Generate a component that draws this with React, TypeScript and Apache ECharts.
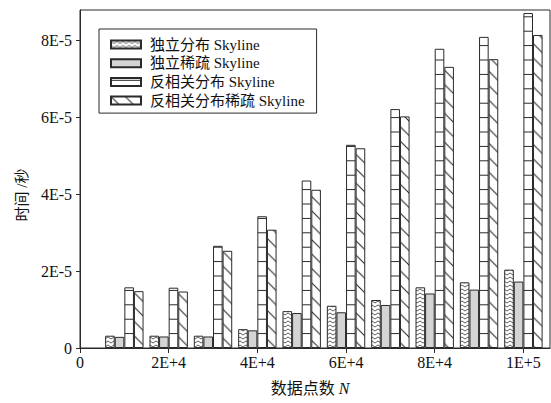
import React, { useEffect, useRef } from 'react';
import * as echarts from 'echarts';

const dataPoints = [10000, 20000, 30000, 40000, 50000, 60000, 70000, 80000, 90000, 100000];
const independent = [3.2e-6, 3.2e-6, 3.2e-6, 4.9e-6, 9.6e-6, 11.0e-6, 12.5e-6, 15.8e-6, 17.1e-6, 20.4e-6];
const independentSparse = [2.9e-6, 3.0e-6, 3.0e-6, 4.6e-6, 9.1e-6, 9.3e-6, 11.2e-6, 14.2e-6, 15.2e-6, 17.3e-6];
const antiCorrelated = [15.8e-6, 15.7e-6, 26.6e-6, 34.3e-6, 43.6e-6, 52.9e-6, 62.2e-6, 77.9e-6, 81.0e-6, 87.2e-6];
const antiCorrelatedSparse = [14.8e-6, 14.7e-6, 25.3e-6, 30.8e-6, 41.2e-6, 52.0e-6, 60.3e-6, 73.2e-6, 75.2e-6, 81.5e-6];
const seriesNames = ['独立分布 Skyline', '独立稀疏 Skyline', '反相关分布 Skyline', '反相关分布稀疏 Skyline'];
const xTickValues = [0, 20000, 40000, 60000, 80000, 100000];
const xTickLabels = ['0', '2E+4', '4E+4', '6E+4', '8E+4', '1E+5'];
const yTickValues = [0, 2e-5, 4e-5, 6e-5, 8e-5];
const yTickLabels = ['0', '2E-5', '4E-5', '6E-5', '8E-5'];

const FONT = "'Liberation Serif', 'Noto Sans CJK SC', serif";
const INK = '#2a2a2a';

function svgUri(svg: string) {
  return 'data:image/svg+xml;charset=utf-8,' + encodeURIComponent(svg);
}

const zigzag = {
  image: svgUri(
    "<svg xmlns='http://www.w3.org/2000/svg' width='6' height='4'><rect width='6' height='4' fill='white'/><polyline points='0,1 3,3 6,1' fill='none' stroke='#333' stroke-width='0.8'/></svg>"
  ),
  repeat: 'repeat',
  imageWidth: 6,
  imageHeight: 4,
};
const hstripe = {
  image: svgUri(
    "<svg xmlns='http://www.w3.org/2000/svg' width='10' height='14.4'><rect width='10' height='14.4' fill='white'/><line x1='0' y1='2.4' x2='10' y2='2.4' stroke='#222' stroke-width='1'/></svg>"
  ),
  repeat: 'repeat',
  imageWidth: 10,
  imageHeight: 14.4,
};
const diag = {
  image: svgUri(
    "<svg xmlns='http://www.w3.org/2000/svg' width='14.4' height='14.4'><rect width='14.4' height='14.4' fill='white'/><line x1='-1' y1='-1' x2='15.4' y2='15.4' stroke='#222' stroke-width='1'/><line x1='-1' y1='13.4' x2='1' y2='15.4' stroke='#222' stroke-width='1'/><line x1='13.4' y1='-1' x2='15.4' y2='1' stroke='#222' stroke-width='1'/></svg>"
  ),
  repeat: 'repeat',
  imageWidth: 14.4,
  imageHeight: 14.4,
};

const fills: any[] = [zigzag, '#d4d4d4', hstripe, diag];
const values = [independent, independentSparse, antiCorrelated, antiCorrelatedSparse];

export default function App() {
  const ref = useRef<HTMLDivElement>(null);
  useEffect(() => {
    if (!ref.current) return;
    const chart = echarts.init(ref.current, null, { renderer: 'svg' });
    chart.setOption({
      animation: false,
      grid: {
        left: 80,
        right: 1,
        top: 10,
        bottom: 55,
        show: true,
        borderColor: INK,
        borderWidth: 1,
        containLabel: false,
        outerBoundsMode: 'none',
      },
      legend: {
        orient: 'vertical',
        left: 99,
        top: 29,
        padding: [8, 12, 5, 11],
        borderColor: INK,
        borderWidth: 1,
        backgroundColor: '#fff',
        icon: 'rect',
        itemWidth: 30,
        itemHeight: 8,
        itemGap: 3.7,
        data: seriesNames,
        textStyle: {
          fontFamily: FONT,
          fontSize: 15,
          lineHeight: 15,
          color: '#111',
          padding: [0, 0, 0, 4],
        },
      },
      xAxis: {
        type: 'value',
        min: 0,
        max: 106000,
        interval: 20000,
        name: '数据点数 {i|N}',
        nameLocation: 'middle',
        nameGap: 32,
        nameTextStyle: {
          fontFamily: FONT,
          fontSize: 16,
          color: '#111',
          padding: [0, 10, 0, 0],
          rich: { i: { fontStyle: 'italic', fontFamily: FONT, fontSize: 16, color: '#111' } },
        },
        axisLine: { show: true, lineStyle: { color: INK, width: 1 } },
        axisTick: { show: true, length: 5, inside: false, lineStyle: { color: INK }, customValues: xTickValues },
        axisLabel: {
          customValues: xTickValues,
          margin: 6,
          fontFamily: FONT,
          fontSize: 16,
          color: '#111',
          formatter: (v: number) => {
            const i = xTickValues.findIndex((t) => Math.abs(t - v) < 1);
            return i >= 0 ? xTickLabels[i] : '';
          },
        },
        splitLine: { show: false },
      },
      yAxis: {
        type: 'value',
        min: 0,
        max: 8.8e-5,
        interval: 2e-5,
        name: '时间 /秒',
        nameLocation: 'middle',
        nameGap: 50,
        nameRotate: 90,
        nameTextStyle: { fontFamily: FONT, fontSize: 15, color: '#111', padding: [0, 32, 0, 0] },
        axisLine: { show: true, lineStyle: { color: INK, width: 1 } },
        axisTick: { show: true, length: 4, inside: false, lineStyle: { color: INK }, customValues: yTickValues },
        axisLabel: {
          customValues: yTickValues,
          margin: 8,
          fontFamily: FONT,
          fontSize: 16,
          color: '#111',
          formatter: (v: number) => {
            const i = yTickValues.findIndex((t) => Math.abs(t - v) < 1e-9);
            return i >= 0 ? yTickLabels[i] : '';
          },
        },
        splitLine: { show: false },
      },
      series: seriesNames.map((name, s) => ({
        name,
        type: 'bar',
        barWidth: 9.6,
        barGap: '0%',
        data: dataPoints.map((n, i) => [n, values[s][i]]),
        itemStyle: { color: fills[s], borderColor: INK, borderWidth: 1 },
        emphasis: { disabled: true },
      })),
    });
    return () => chart.dispose();
  }, []);
  return (
    <div
      ref={ref}
      style={{ position: 'fixed', left: 0, top: 0, width: 551, height: 403, background: '#fff' }}
    />
  );
}
